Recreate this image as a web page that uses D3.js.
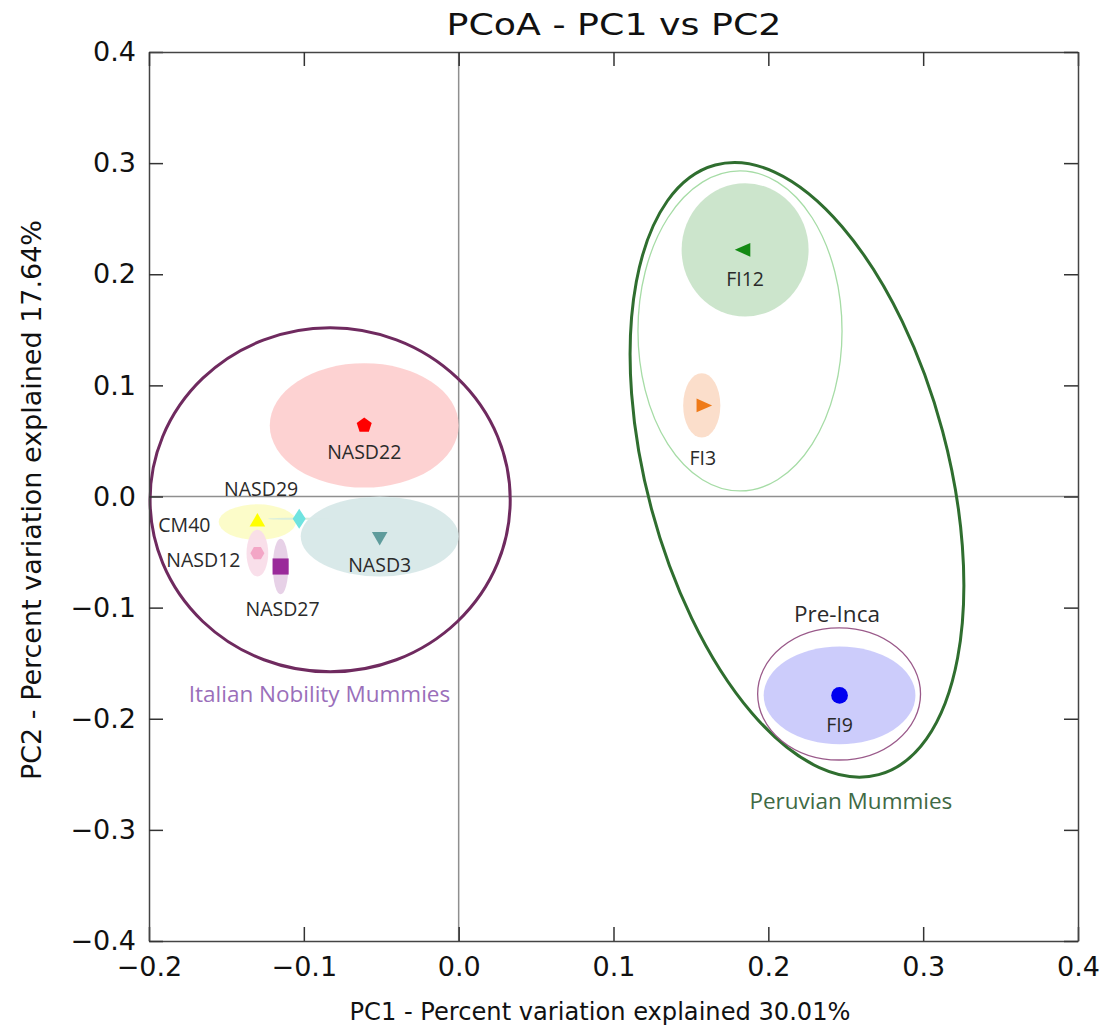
<!DOCTYPE html>
<html>
<head>
<meta charset="utf-8">
<script src="https://cdn.jsdelivr.net/npm/d3@7"></script>
<style>
  body { margin: 0; background: #fff; }
  svg { display: block; font-family: "DejaVu Sans", sans-serif; }
</style>
</head>
<body>
<svg id="chart" width="1104" height="1026"></svg>
<script>
// sample coordinates (PC1, PC2) and the spread of each sample's ellipse
const samples = ["NASD22", "CM40", "NASD29", "NASD3", "NASD12", "NASD27", "FI12", "FI3", "FI9"];
const pc1 = [-0.061, -0.130, -0.103, -0.051, -0.130, -0.115, 0.185, 0.157, 0.246];
const pc2 = [0.064, -0.023, -0.020, -0.036, -0.051, -0.063, 0.222, 0.082, -0.179];
const spread1 = [0.061, 0.025, 0.020, 0.051, 0.007, 0.005, 0.041, 0.012, 0.049];
const spread2 = [0.056, 0.016, 0.001, 0.036, 0.021, 0.025, 0.060, 0.029, 0.044];

// group outlines: center, radii (data units), tilt
const groups = ["Italian Nobility Mummies", "FI12+FI3", "Peruvian Mummies", "Pre-Inca"];
const groupPc1 = [-0.083, 0.1817, 0.2185, 0.2457];
const groupPc2 = [-0.003, 0.149, 0.024, -0.1777];
const groupR1 = [0.1163, 0.0659, 0.0973, 0.0526];
const groupR2 = [0.1548, 0.144, 0.284, 0.0594];
const groupTilt = [0, 0, -15, 0];

const xTicks = [-0.2, -0.1, 0.0, 0.1, 0.2, 0.3, 0.4];
const yTicks = [-0.4, -0.3, -0.2, -0.1, 0.0, 0.1, 0.2, 0.3, 0.4];

const markerColor = ["#ff0000", "#ffff00", "#6fe3e0", "#5f9c9c", "#f3a6c6", "#9a2a9a", "#138a13", "#ef7a18", "#0000f0"];
const ellipseColor = ["#fdd0d0", "#fcfcc6", "#d8eedd", "#d7e8e8", "#f9dde9", "#e6cfe6", "#c9e4c9", "#fbdcc8", "#c9c9fb"];
const markerShape = ["pentagon", "up", "diamond", "down", "hexagon", "square", "left", "right", "circle"];
const groupStroke = ["#6f2a5f", "#a6dca6", "#2f6e2f", "#9a5a8a"];
const groupWidth = [3, 1.3, 3, 1.3];

const svg = d3.select("#chart");
const mLeft = 149, mRight = 1078, mTop = 52, mBottom = 941;

const x = d3.scaleLinear().domain([-0.2, 0.4]).range([mLeft, mRight]);
const y = d3.scaleLinear().domain([-0.4, 0.4]).range([mBottom, mTop]);

const pts = samples.map((name, i) => ({
  name, x: pc1[i], y: pc2[i], sx: spread1[i], sy: spread2[i],
  color: markerColor[i], fill: ellipseColor[i], shape: markerShape[i]
}));

// title
svg.append("text").attr("x", 614).attr("y", 35).attr("text-anchor", "middle")
  .attr("font-size", 31).attr("fill", "#111")
  .attr("textLength", 335).attr("lengthAdjust", "spacingAndGlyphs")
  .text("PCoA - PC1 vs PC2");

// zero lines
svg.append("line").attr("x1", x(0)).attr("x2", x(0)).attr("y1", mTop).attr("y2", mBottom)
  .attr("stroke", "#8f8f8f").attr("stroke-width", 1.5);
svg.append("line").attr("x1", mLeft).attr("x2", mRight).attr("y1", y(0)).attr("y2", y(0))
  .attr("stroke", "#8f8f8f").attr("stroke-width", 1.5);

// sample ellipses
svg.append("g").selectAll("ellipse").data(pts).enter().append("ellipse")
  .attr("cx", d => x(d.x)).attr("cy", d => y(d.y))
  .attr("rx", d => x(d.x + d.sx) - x(d.x))
  .attr("ry", d => y(d.y) - y(d.y + d.sy))
  .attr("fill", d => d.fill).attr("opacity", 0.95);

// group outlines
svg.append("g").selectAll("ellipse").data(groups.map((g, i) => i)).enter().append("ellipse")
  .attr("transform", i => `translate(${x(groupPc1[i])},${y(groupPc2[i])}) rotate(${groupTilt[i]})`)
  .attr("rx", i => x(groupPc1[i] + groupR1[i]) - x(groupPc1[i]))
  .attr("ry", i => y(groupPc2[i]) - y(groupPc2[i] + groupR2[i]))
  .attr("fill", "none").attr("stroke", i => groupStroke[i]).attr("stroke-width", i => groupWidth[i]);

// markers
const poly = (n, rot) => ({
  draw(ctx, size) {
    const r = Math.sqrt(size / (n * 0.5 * Math.sin(2 * Math.PI / n)));
    for (let k = 0; k < n; k++) {
      const a = rot + k * 2 * Math.PI / n;
      const px = r * Math.sin(a), py = -r * Math.cos(a);
      k ? ctx.lineTo(px, py) : ctx.moveTo(px, py);
    }
    ctx.closePath();
  }
});
const shapes = {
  pentagon: [poly(5, 0), 148, 0, ""],
  up: [d3.symbolTriangle, 105, 0, ""],
  down: [d3.symbolTriangle, 105, 180, ""],
  left: [d3.symbolTriangle, 115, -90, " scale(0.85,1.1)"],
  right: [d3.symbolTriangle, 115, 90, " scale(0.85,1.1)"],
  diamond: [poly(4, 0), 200, 0, " scale(0.65,1)"],
  hexagon: [poly(6, Math.PI / 6), 127, 0, ""],
  square: [d3.symbolSquare, 260, 0, ""],
  circle: [d3.symbolCircle, 220, 0, ""]
};
svg.append("g").selectAll("path").data(pts).enter().append("path")
  .attr("transform", d => `translate(${x(d.x)},${y(d.y)}) rotate(${shapes[d.shape][2]})${shapes[d.shape][3]}`)
  .attr("d", d => d3.symbol(shapes[d.shape][0], shapes[d.shape][1])())
  .attr("fill", d => d.color);

// sample labels
const labelPos = {
  NASD22: [0, 34], CM40: [-73, 10], NASD29: [-38, -23], NASD3: [0, 35],
  NASD12: [-54, 14], NASD27: [2, 49], FI12: [0, 36], FI3: [1, 60], FI9: [0, 37]
};
svg.append("g").selectAll("text").data(pts).enter().append("text")
  .attr("x", d => x(d.x) + labelPos[d.name][0])
  .attr("y", d => y(d.y) + labelPos[d.name][1])
  .attr("text-anchor", "middle").attr("font-size", 19.5).attr("fill", "#2a2a2a")
  .attr("font-family", "'Open Sans', 'DejaVu Sans', sans-serif")
  .text(d => d.name);

// group labels
const groupLabels = [
  { text: "Italian Nobility Mummies", gx: -0.0899, gy: -0.185, color: "#9a6fba" },
  { text: "Peruvian Mummies", gx: 0.2533, gy: -0.2812, color: "#3f6a45" },
  { text: "Pre-Inca", gx: 0.2443, gy: -0.1125, color: "#2a2a2a" }
];
svg.append("g").selectAll("text").data(groupLabels).enter().append("text")
  .attr("x", d => x(d.gx)).attr("y", d => y(d.gy))
  .attr("text-anchor", "middle").attr("font-size", 22.5).attr("fill", d => d.color)
  .attr("font-family", "'Open Sans', 'DejaVu Sans', sans-serif")
  .text(d => d.text);

// frame and axes with inward ticks
const fmt = d => d3.format(".1f")(d).replace("-", "\u2212");
const axG = svg.append("g");
axG.append("g").attr("transform", `translate(0,${mBottom})`)
  .call(d3.axisBottom(x).tickValues(xTicks).tickFormat(fmt).tickSizeInner(-14).tickSizeOuter(0).tickPadding(16));
axG.append("g").attr("transform", `translate(${mLeft},0)`)
  .call(d3.axisLeft(y).tickValues(yTicks).tickFormat(fmt).tickSizeInner(-14).tickSizeOuter(0).tickPadding(13));
axG.append("g").attr("transform", `translate(0,${mTop})`)
  .call(d3.axisTop(x).tickValues(xTicks).tickFormat("").tickSizeInner(-14).tickSizeOuter(0));
axG.append("g").attr("transform", `translate(${mRight},0)`)
  .call(d3.axisRight(y).tickValues(yTicks).tickFormat("").tickSizeInner(-14).tickSizeOuter(0));
axG.selectAll("g").attr("font-size", 27).attr("font-family", "'DejaVu Sans', sans-serif");
axG.selectAll(".domain").attr("stroke", "#444").attr("stroke-width", 1.5);
axG.selectAll(".tick line").attr("stroke", "#333").attr("stroke-width", 1.5);
axG.selectAll("text").attr("fill", "#111");

// axis titles
svg.append("text").attr("x", 600).attr("y", 1020).attr("text-anchor", "middle")
  .attr("font-size", 24).attr("fill", "#111")
  .attr("textLength", 501).attr("lengthAdjust", "spacingAndGlyphs")
  .text("PC1 - Percent variation explained 30.01%");
svg.append("text").attr("transform", `translate(41,500) rotate(-90)`)
  .attr("text-anchor", "middle").attr("font-size", 27).attr("fill", "#111")
  .attr("textLength", 560).attr("lengthAdjust", "spacingAndGlyphs")
  .text("PC2 - Percent variation explained 17.64%");
</script>
</body>
</html>
